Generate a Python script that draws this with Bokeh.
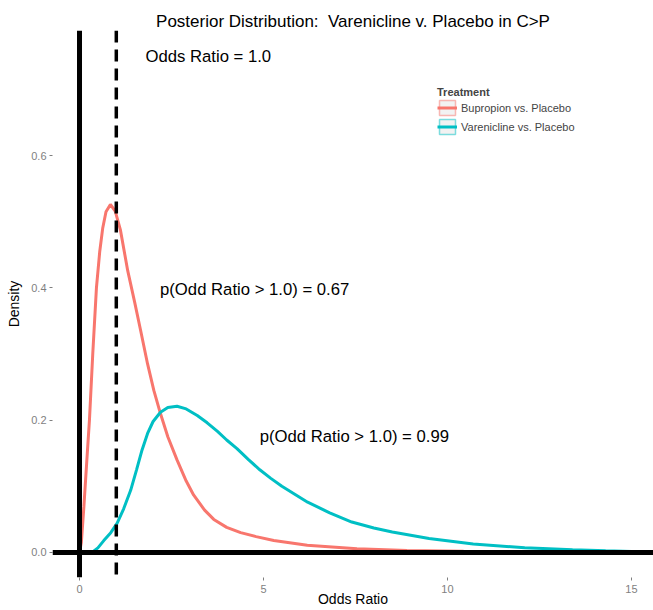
from bokeh.plotting import figure
from bokeh.models import Span, Legend, LegendItem, FixedTicker, ColumnDataSource, Range1d
from bokeh.core.properties import value
from bokeh.embed import file_html
from bokeh.resources import INLINE

# ---- data ----
bup_x = [0, 0.05, 0.12, 0.2, 0.27, 0.36, 0.46, 0.55, 0.63, 0.72, 0.84, 0.97, 1.11, 1.31,
         1.5, 1.66, 1.85, 2.02, 2.2, 2.4, 2.65, 2.9, 3.1, 3.4, 3.65, 4.0, 4.38, 4.8, 5.28,
         6.19, 7.54, 8.9, 10.44]
bup_y = [0, 0.015, 0.07, 0.14, 0.2, 0.3, 0.4, 0.455, 0.49, 0.515, 0.526, 0.516, 0.488,
         0.426, 0.378, 0.336, 0.285, 0.245, 0.21, 0.175, 0.14, 0.108, 0.087, 0.064, 0.05,
         0.038, 0.03, 0.024, 0.018, 0.011, 0.0055, 0.003, 0.002]

var_x = [0.34, 0.5, 0.66, 0.85, 1.02, 1.2, 1.39, 1.55, 1.7, 1.85, 2.0, 2.2, 2.4, 2.65,
         2.9, 3.2, 3.47, 3.75, 4.0, 4.28, 4.6, 4.9, 5.2, 5.5, 5.85, 6.2, 6.8, 7.4, 8.0,
         8.5, 9.5, 10.7, 12.1, 13.4, 14.3, 15.0]
var_y = [0, 0.007, 0.018, 0.03, 0.044, 0.066, 0.094, 0.125, 0.155, 0.18, 0.198, 0.212,
         0.219, 0.221, 0.217, 0.207, 0.196, 0.183, 0.17, 0.157, 0.14, 0.125, 0.112, 0.1,
         0.088, 0.076, 0.06, 0.046, 0.037, 0.031, 0.021, 0.013, 0.007, 0.004, 0.0025, 0.0015]

series_names = ["Bupropion vs. Placebo", "Varenicline vs. Placebo"]
series_colors = ["#F8766D", "#00BFC4"]

x_ticks = [0, 5, 10, 15]
y_ticks = [0.0, 0.2, 0.4, 0.6]
y_tick_labels = ["0.0", "0.2", "0.4", "0.6"]

ref_odds_ratio = 1.0

note_x = [3.5, 4.76, 7.47]
note_y = [0.75, 0.398, 0.175]
note_text = ["Odds Ratio = 1.0", "p(Odd Ratio > 1.0) = 0.67", "p(Odd Ratio > 1.0) = 0.99"]

title_text = "Posterior Distribution:\u00a0 Varenicline v. Placebo in C>P"

FONT = "Liberation Sans"

p = figure(width=653, height=610, output_backend="svg", toolbar_location=None,
           x_range=Range1d(-0.734, 15.6), y_range=Range1d(-0.0378, 0.789),
           min_border_left=52, min_border_right=0, min_border_top=30, min_border_bottom=33)
p.title.text = title_text
p.title.align = "center"
p.title.text_font = FONT
p.title.text_font_size = "17px"
p.title.text_font_style = "normal"
p.title.text_color = "black"
p.title.standoff = 0
p.title.offset = 0
p.outline_line_color = None
p.background_fill_color = "white"
p.xgrid.visible = False
p.ygrid.visible = False

for ax in (p.xaxis[0], p.yaxis[0]):
    ax.axis_line_color = None
    ax.major_tick_line_color = "#7F7F7F"
    ax.minor_tick_line_color = None
    ax.major_tick_in = 0
    ax.major_tick_out = 3
    ax.major_label_text_color = "#7F7F7F"
    ax.major_label_text_font = FONT
    ax.major_label_text_font_size = "11px"
    ax.axis_label_text_font = FONT
    ax.axis_label_text_font_size = "14px"
    ax.axis_label_text_font_style = "normal"
    ax.axis_label_text_color = "black"

p.xaxis.ticker = FixedTicker(ticks=x_ticks)
p.yaxis.ticker = FixedTicker(ticks=y_ticks)
p.yaxis.major_label_overrides = {t: l for t, l in zip(y_ticks, y_tick_labels)}
p.xaxis.axis_label = "Odds Ratio"
p.yaxis.axis_label = "Density"
p.xaxis.major_label_standoff = 4
p.yaxis.major_label_standoff = 3
p.xaxis.axis_label_standoff = -5
p.yaxis.axis_label_standoff = 6

r_bup = p.line(bup_x, bup_y, line_color=series_colors[0], line_width=3)
r_var = p.line(var_x, var_y, line_color=series_colors[1], line_width=3)

# legend key boxes (legend only, nothing drawn in the plot area)
nan = float("nan")
box_bup = p.rect(x=[nan], y=[nan], width=1, height=1, fill_color="#F2F2F2",
                 line_color=series_colors[0], line_alpha=0.5, line_width=1.5)
box_var = p.rect(x=[nan], y=[nan], width=1, height=1, fill_color="#F2F2F2",
                 line_color=series_colors[1], line_alpha=0.5, line_width=1.5)

p.add_layout(Span(location=0, dimension="height", line_color="black", line_width=5))
p.add_layout(Span(location=0, dimension="width", line_color="black", line_width=5))
p.add_layout(Span(location=ref_odds_ratio, dimension="height", line_color="black",
                  line_width=3.5, line_dash="12 7"))

src = ColumnDataSource(dict(x=note_x, y=note_y, text=note_text))
p.text(x="x", y="y", text="text", source=src, text_align="center", text_baseline="middle",
       text_font=value(FONT), text_font_size="16.7px", text_color="black")

legend = Legend(items=[LegendItem(label=series_names[0], renderers=[box_bup, r_bup]),
                       LegendItem(label=series_names[1], renderers=[box_var, r_var])],
                location=(385, 441), title="Treatment")
legend.title_text_font = FONT
legend.title_text_font_size = "11px"
legend.title_text_font_style = "bold"
legend.title_standoff = 0
legend.label_text_font = FONT
legend.label_text_font_size = "11px"
legend.glyph_width = 20
legend.glyph_height = 19
legend.label_height = 19
legend.spacing = 0
legend.padding = 0
legend.margin = 0
legend.label_standoff = 4
legend.border_line_color = None
legend.background_fill_alpha = 0
p.add_layout(legend)

open("out.html", "w").write(file_html(p, INLINE))
